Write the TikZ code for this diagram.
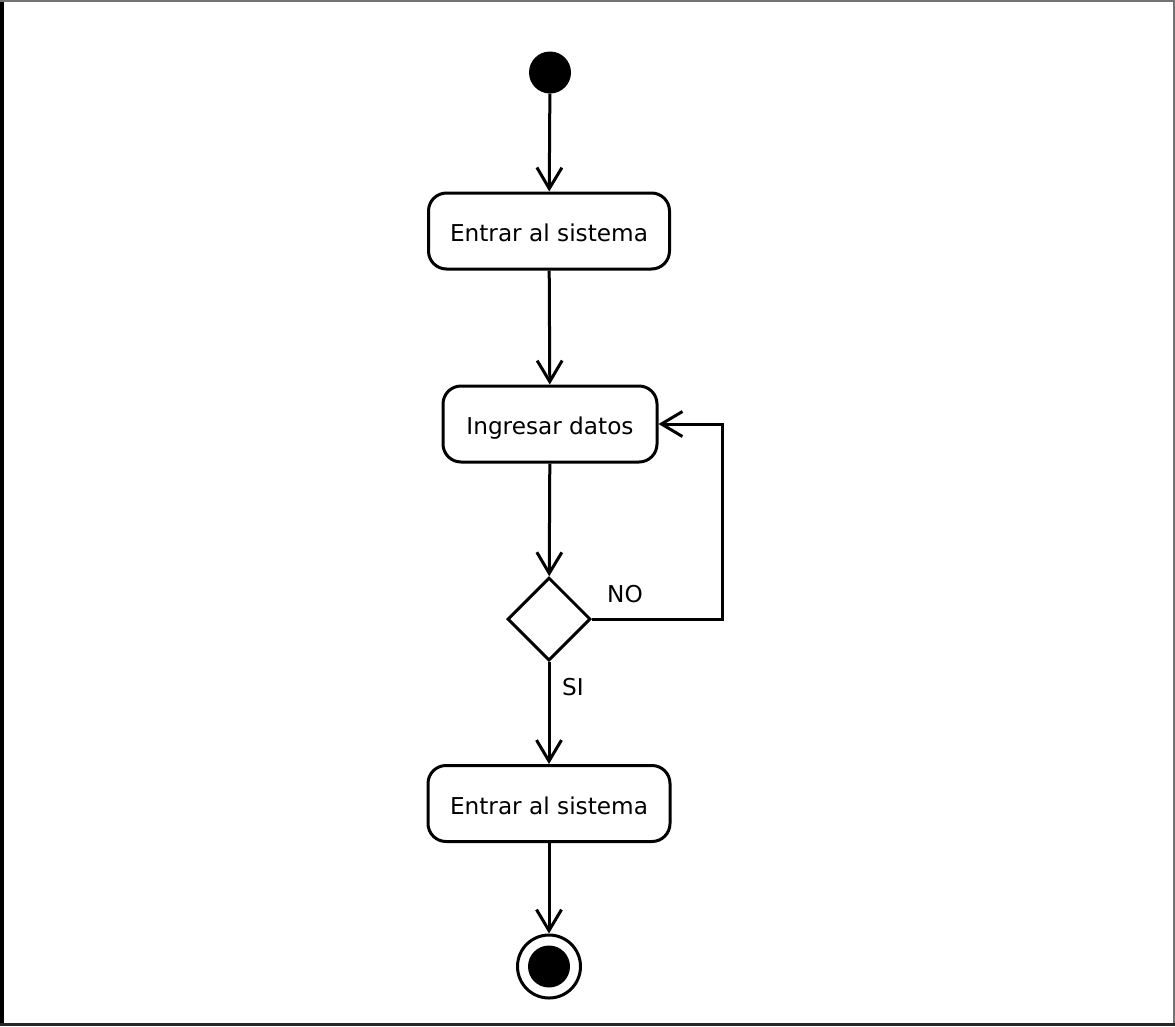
\documentclass[tikz,border=0pt]{standalone}
\usepackage{fontspec}
\setmainfont{DejaVu Sans}
\usetikzlibrary{arrows.meta,shapes.geometric}

\tikzset{
  action/.style={draw, line width=3pt, rounded corners=18pt, fill=white,
    minimum height=76pt, inner sep=0pt, text height=21.8pt, text depth=0pt,
    font=\fontsize{23.2}{28}\selectfont},
  startdot/.style={circle, fill=black, minimum size=42pt, inner sep=0pt},
  endring/.style={circle, draw, line width=3pt, minimum size=63pt, inner sep=0pt},
  enddot/.style={circle, fill=black, minimum size=42pt, inner sep=0pt},
  decision/.style={diamond, draw, line width=3pt, aspect=1, inner sep=0pt,
    minimum width=83pt, minimum height=83pt},
  guard/.style={inner sep=0pt, font=\fontsize{23.2}{28}\selectfont},
  flow/.style={line width=3pt, -{Straight Barb[length=21pt,width=25pt]}},
}

\begin{document}
\begin{tikzpicture}[x=1pt, y=-1pt]
  % page frame
  \useasboundingbox (0,0) rectangle (1175,1026);
  \fill[white] (0,0) rectangle (1175,1026);
  \fill[black] (0,0) rectangle (4,1026);
  \fill[black!55] (0,0) rectangle (1175,2);
  \fill[black!55] (1173,0) rectangle (1175,1026);
  \fill[black!85] (0,1023) rectangle (1175,1026);

  % activity nodes
  \node[startdot] (start) at (550,72.5) {};
  \node[action, minimum width=241pt] (login) at (549,231) {Entrar al sistema};
  \node[action, minimum width=214pt] (input) at (550,424) {Ingresar datos};
  \node[decision] (check) at (549,619) {};
  \node[action, minimum width=242pt] (enter) at (549,803.5) {Entrar al sistema};
  \node[endring] (stop) at (549,966.5) {};
  \node[enddot] (stopcore) at (stop) {};

  % guards
  \node[guard] (no) at (625,594) {NO};
  \node[guard] (si) at (573,687) {SI};

  % loop turn point
  \coordinate (loopx) at (722,0);

  % control flows
  \draw[flow] (start) -- (login);
  \draw[flow] (login) -- (input);
  \draw[flow] (input) -- (check);
  \draw[flow] (check.east) -- (check.east -| loopx) |- (input.east);
  \draw[flow] (check) -- (enter);
  \draw[flow] (enter) -- (stop);
\end{tikzpicture}
\end{document}
